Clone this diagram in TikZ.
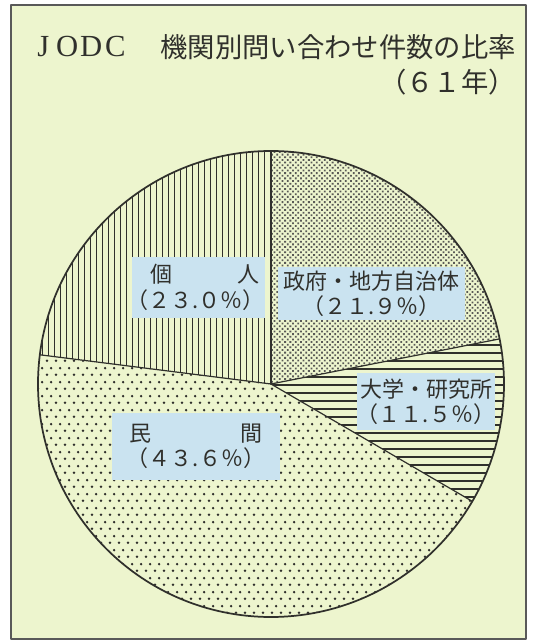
\documentclass[tikz,border=0pt]{standalone}
\usepackage{fontspec}
\newfontfamily\cjk{Noto Sans CJK JP}
\newfontfamily\latinserif{Liberation Serif}
\usetikzlibrary{patterns.meta}
\definecolor{bgpale}{RGB}{237,245,206}
\definecolor{boxblue}{RGB}{202,227,240}
\definecolor{inkdark}{RGB}{48,48,44}
\newcommand{\kakkoL}{\makebox[0.5em][r]{（}}
\newcommand{\kakkoR}{\makebox[0.5em][l]{）}}
\tikzdeclarepattern{
  name=hexdots,
  type=uncolored,
  bounding box={(0,0) and (6.75pt,10.5pt)},
  tile size={(6.75pt,10.5pt)},
  code={
    \fill (1.6875pt,2.625pt) circle (1.1pt);
    \fill (5.0625pt,7.875pt) circle (1.1pt);
  }
}

\begin{document}
\begin{tikzpicture}[line cap=round,line join=round,x=0.75pt,y=0.75pt,
    labelbox/.style={fill=boxblue,text=inkdark,font=\cjk\fontsize{16.5}{19}\selectfont,inner ysep=0pt,anchor=center},
    titletext/.style={text=inkdark,inner sep=0pt,font=\cjk\fontsize{20.5}{24}\selectfont},
    hatchline/.style={line width=0.75pt,color=inkdark,line cap=butt}]
                \useasboundingbox (0,0) rectangle (533,643);
                \fill [white] (0,0) rectangle (533,643);
                \draw [line width=1pt,color=gray!70!black,fill=bgpale] (11,4) rectangle (526,638);
                % pie
                \coordinate (O) at (271,259);
                \fill [pattern={Dots[distance=2.8pt,radius=0.95pt,angle=45]},pattern color=inkdark!80] (O) -- ++(90:233) arc [start angle=90,end angle=11.16,radius=233] -- cycle;
                \begin{scope}
                    \clip (O) -- ++(11.16:233) arc [start angle=11.16,end angle=-30.24,radius=233] -- cycle;
                    \foreach \y in {0,...,21}
                        \draw [hatchline,line width=1.5pt] (265,{138+8*\y}) -- (510,{138+8*\y});
                \end{scope}
                \fill [pattern=hexdots,pattern color=inkdark] (O) -- ++(-30.24:233) arc [start angle=-30.24,end angle=-187.2,radius=233] -- cycle;
                \begin{scope}
                    \clip (O) -- ++(172.8:233) arc [start angle=172.8,end angle=90,radius=233] -- cycle;
                    \foreach \x in {0,...,39}
                        \draw [hatchline] ({36.5+6*\x},250) -- ({36.5+6*\x},500);
                \end{scope}
                \draw [line width=0.9pt,color=inkdark] (O) -- ++(90:233);
                \draw [line width=0.9pt,color=inkdark] (O) -- ++(11.16:233);
                \draw [line width=0.9pt,color=inkdark] (O) -- ++(-30.24:233);
                \draw [line width=0.9pt,color=inkdark] (O) -- ++(172.8:233);
                \draw [line width=1.3pt,color=inkdark] (O) circle (233);
                % labels
                \node [labelbox,text width=92.25pt,inner xsep=3.75pt,minimum height=45.75pt,align=left] (kojin) at (198.5,355.5) {\hspace*{0.6em}個\hfill 人\\\kakkoL２３.０％\kakkoR};
                \node [labelbox,text width=135pt,inner xsep=2.6pt,minimum height=39.75pt,align=center] (seifu) at (371.5,349.5) {政府・地方自治体\\\kakkoL２１.９％\kakkoR};
                \node [labelbox,text width=99pt,inner xsep=2.25pt,minimum height=42.75pt,align=center] (daigaku) at (426,241.5) {大学・研究所\\\kakkoL１１.５％\kakkoR};
                \node [labelbox,text width=99.75pt,inner xsep=13.1pt,minimum height=50.25pt,align=center] (minkan) at (196,196.5) {民\hfill 間\\\kakkoL４３.６％\kakkoR};
                % title
                \node [titletext,anchor=west,font=\latinserif\fontsize{23}{27}\selectfont] (jodc) at (31,596) {\makebox[18pt]{J}\makebox[18pt]{O}\makebox[18pt]{D}\makebox[18pt]{C}};
                \node [titletext,anchor=east] (title) at (516,596) {機関別問い合わせ件数の比率};
                \node [titletext,anchor=east] (year) at (516,561) {（６１年）};
\end{tikzpicture}
\end{document}
